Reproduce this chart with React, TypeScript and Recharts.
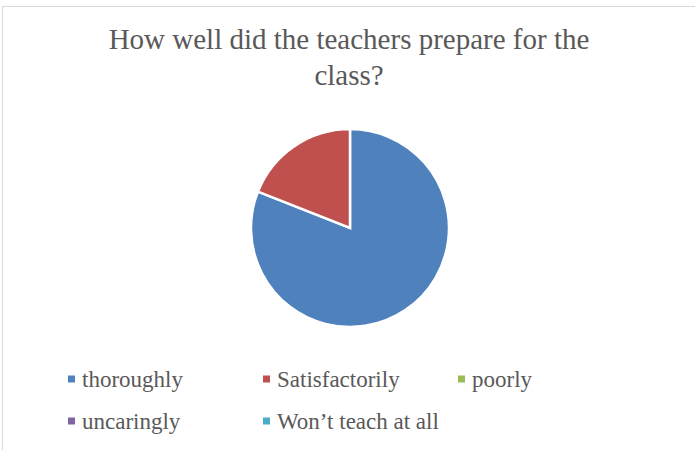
import React from 'react';
import { PieChart, Pie, Cell, Legend } from 'recharts';

// answers and how many picked each one
const answers = ['thoroughly', 'Satisfactorily', 'poorly', 'uncaringly', 'Won\u2019t teach at all'];
const shares = [81, 19, 0, 0, 0];
const colors = ['#4F81BD', '#C0504D', '#9BBB59', '#8064A2', '#4BACC6'];
const titleLines = ['How well did the teachers prepare for the', 'class?'];

const data = answers.map((name, i) => ({ name, value: shares[i] }));

const FONT = "'Times New Roman', Times, 'Liberation Serif', 'DejaVu Serif', serif";

// legend laid out in 3 columns like the office chart
const renderLegend = () => (
  <svg width={695} height={450} style={{ position: 'absolute', left: 0, top: 0 }}>
    {answers.map((name, i) => {
      const col = i % 3;
      const row = Math.floor(i / 3);
      const x = 68 + col * 195;
      const y = 387 + row * 42;
      return (
        <g key={name}>
          <rect x={x} y={y - 11.5} width={7} height={7} fill={colors[i]} />
          <text x={x + 14} y={y} style={{ fontFamily: FONT, fontSize: 23 }} fill="#595959">
            {name}
          </text>
        </g>
      );
    })}
  </svg>
);

const App: React.FC = () => {
  return (
    <div style={{ position: 'absolute', left: 0, top: 0, width: 695, height: 450, background: '#fff', overflow: 'hidden' }}>
      <div style={{ position: 'absolute', left: 2, top: 6, width: 720, height: 480, border: '1px solid #d9d9d9', boxSizing: 'border-box' }} />
      <svg width={695} height={450} style={{ position: 'absolute', left: 0, top: 0 }}>
        {titleLines.map((line, i) => (
          <text key={i} x={349} y={49 + i * 36} textAnchor="middle" style={{ fontFamily: FONT, fontSize: 29 }} fill="#595959">
            {line}
          </text>
        ))}
      </svg>
      <div style={{ position: 'absolute', left: 0, top: 0 }}>
        <PieChart width={695} height={450} margin={{ top: 0, right: 0, bottom: 0, left: 0 }}>
          <Pie
            data={data}
            dataKey="value"
            nameKey="name"
            cx={350}
            cy={228}
            outerRadius={99}
            startAngle={90}
            endAngle={-270}
            stroke="#fff"
            strokeWidth={2.5}
            isAnimationActive={false}
          >
            {data.map((d, i) => (
              <Cell key={d.name} fill={colors[i]} />
            ))}
          </Pie>
          <Legend content={renderLegend} wrapperStyle={{ position: 'absolute', left: 0, top: 0, width: 695, height: 450 }} />
        </PieChart>
      </div>
    </div>
  );
};

export default App;
